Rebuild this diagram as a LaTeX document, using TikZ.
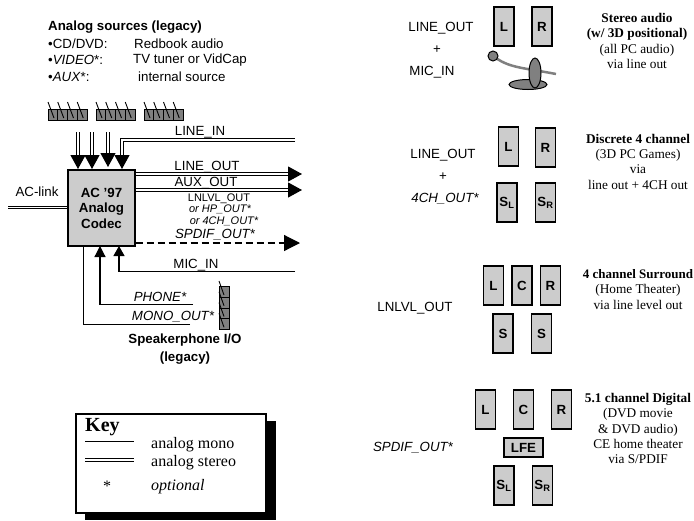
\documentclass[tikz,border=0pt]{standalone}
\usepackage{fontspec}
\setmainfont{Liberation Sans}
\newfontfamily\serifface{Liberation Serif}
\usetikzlibrary{arrows.meta}
\definecolor{boxgray}{HTML}{CCCCCC}
\definecolor{jackgray}{HTML}{808080}
\tikzset{
  lbl/.style={inner sep=0pt,font=\fontsize{13.3}{15}\selectfont},
  lblsmall/.style={inner sep=0pt,font=\fontsize{11}{13}\itshape\selectfont},
  lblbold/.style={inner sep=0pt,align=center,font=\fontsize{13.3}{17.5}\bfseries\selectfont},
  panel/.style={inner sep=0pt,align=center,font=\fontsize{13.3}{15.3}\serifface\selectfont},
  keytext/.style={inner sep=0pt,anchor=west,font=\fontsize{16}{18}\serifface\selectfont},
  spk/.style={draw,line width=1.2pt,fill=boxgray,inner sep=0pt,minimum width=20pt,minimum height=39pt,font=\fontsize{13.3}{15}\bfseries\selectfont},
  mono/.style={line width=1.2pt},
  stereo/.style={double,double distance=1.5pt,line width=1.1pt},
  bighead/.style={-{Triangle[length=14pt,width=15pt]}},
  smallhead/.style={-{Triangle[length=10pt,width=11pt]}},
  jack/.style={draw,line width=0.9pt,fill=jackgray}
}
\begin{document}
\begin{tikzpicture}[x=1pt,y=-1pt]
  \useasboundingbox (0,0) rectangle (694,520);
  % sources
  \node[lbl,font=\fontsize{13.3}{15}\bfseries\selectfont,anchor=west] (srctitle) at (48,27) {Analog sources (legacy)};
  \node[lbl,anchor=west] (srcA) at (48,44) {•CD/DVD:};
  \node[lbl,anchor=west] (srcAb) at (134,44) {Redbook audio};
  \node[lbl,anchor=west] (srcB) at (48,60) {•\textit{VIDEO}*:};
  \node[lbl,anchor=west] (srcBb) at (133,60) {TV tuner or VidCap};
  \node[lbl,anchor=west] (srcC) at (48,77) {•\textit{AUX}*:};
  \node[lbl,anchor=west] (srcCb) at (138,77) {internal source};
  % jacks
  \foreach \x in {48,96,144}
    \foreach \i in {0,...,3} {
      \draw[jack] ({\x+\i*9.75},109) rectangle ++(9.75,11);
      \draw[line width=0.9pt] ({\x+\i*9.75},102) -- ++(6,16);
    }
  \foreach \i in {0,...,3} {
    \draw[jack] (219,{286.5+\i*10.75}) rectangle ++(10.5,10.75);
    \draw[line width=0.9pt] (219,{281+\i*10.75}) -- ++(5,14);
  }
  % codec
  \node[draw,line width=1.2pt,fill=boxgray,minimum width=67pt,minimum height=76pt,inner sep=0pt,align=center,font=\fontsize{13.3}{15.5}\bfseries\selectfont] (codec) at (101.5,208) {AC ’97\\Analog\\Codec};
  \node[lbl] (aclink) at (37,192) {AC-link};
  \coordinate (aclinkend) at (8,207.5);
  \coordinate (aclinkin) at (codec.west |- aclinkend);
  \draw[stereo] (aclinkend) -- (aclinkin);
  % inputs from the jacks
  \foreach \x/\y/\n in {78/169/a,92/169/b,108/167/c} {
    \coordinate (src\n) at (\x,132);
    \coordinate (in\n) at (\x,\y);
    \draw[stereo,bighead] (src\n) -- (in\n);
  }
  \coordinate (lineinend) at (295,140);
  \coordinate (lineinin) at (122,169);
  \draw[stereo,bighead] (lineinend) -| (lineinin);
  \node[lbl] (linein) at (200,132) {LINE\_IN};
  % outputs
  \foreach \y/\n in {174/lineout,190/auxout} {
    \coordinate (\n from) at (codec.east |- 0,\y);
    \coordinate (\n to) at (302,\y);
    \draw[stereo,bighead] (\n from) -- (\n to);
  }
  \node[lbl] (lineout) at (207,167) {LINE\_OUT};
  \node[lbl] (auxout) at (206,183) {AUX\_OUT};
  \node[lbl,font=\fontsize{11}{13}\selectfont] (lnlvl) at (219,199) {LNLVL\_OUT};
  \node[lblsmall] (hpout) at (220,209) {or HP\_OUT*};
  \node[lblsmall] (fourch) at (224,221) {or 4CH\_OUT*};
  \node[lbl,font=\fontsize{13.3}{15}\itshape\selectfont] (spdif) at (215,235) {SPDIF\_OUT*};
  \coordinate (spdiffrom) at (codec.east |- 0,243);
  \coordinate (spdifto) at (300,243);
  \draw[mono,dashed,dash pattern=on 7pt off 4pt,-{Triangle[length=16pt,width=16pt]}] (spdiffrom) -- (spdifto);
  % mic, phone, mono
  \coordinate (micend) at (295,271.5);
  \coordinate (micin) at (119,246);
  \draw[mono,smallhead] (micend) -| (micin);
  \node[lbl] (micin1) at (196,265) {MIC\_IN};
  \coordinate (phoneend) at (193,304.5);
  \coordinate (phonein) at (100,246);
  \draw[mono,-{Triangle[length=11pt,width=11pt]}] (phoneend) -| (phonein);
  \node[lbl,font=\fontsize{13.3}{15}\itshape\selectfont] (phone) at (160,297) {PHONE*};
  \coordinate (monoend) at (190,324.5);
  \coordinate (monoout) at (83.5,246);
  \draw[mono] (monoend) -| (monoout);
  \node[lbl,font=\fontsize{13.3}{15}\itshape\selectfont] (monolbl) at (173,317) {MONO\_OUT*};
  \node[lblbold] (spkphone) at (185,349) {Speakerphone I/O\\(legacy)};
  % key
  \fill (85,421) rectangle (275.5,520);
  \node[draw,line width=1.2pt,fill=white,minimum width=190pt,minimum height=99pt,inner sep=0pt] (keybox) at (171,463.5) {};
  \node[inner sep=0pt,anchor=west,font=\fontsize{20}{22}\bfseries\serifface\selectfont] (keytitle) at (85,427) {Key};
  \coordinate (monoA) at (85,441.5);
  \coordinate (monoB) at (134,441.5);
  \draw[mono] (monoA) -- (monoB);
  \coordinate (stereoA) at (85,460);
  \coordinate (stereoB) at (134,460);
  \draw[stereo] (stereoA) -- (stereoB);
  \node[keytext,anchor=center] (keystar) at (107,486) {*};
  \node[keytext] (keymono) at (151,445) {analog mono};
  \node[keytext] (keystereo) at (151,463) {analog stereo};
  \node[keytext] (keyopt) at (151,487) {\itshape optional};
  % stereo panel
  \node[lbl] (p1a) at (441,28) {LINE\_OUT};
  \node[lbl] (p1b) at (437,50) {+};
  \node[lbl] (p1c) at (432,72) {MIC\_IN};
  \node[spk] (p1L) at (504,26.5) {L};
  \node[spk] (p1R) at (542,26.5) {R};
  \draw[jackgray,line width=2.5pt] (496,58) .. controls (510,68) and (525,68) .. (556,74);
  \draw[line width=1pt,fill=jackgray] (528,84.5) ellipse (19 and 5);
  \draw[line width=1pt,fill=jackgray] (535,73) ellipse (6 and 15);
  \draw[line width=1pt,fill=jackgray] (493,56) circle (5);
  \node[panel] (p1txt) at (637,41) {\textbf{Stereo audio}\\\textbf{(w/ 3D positional)}\\(all PC audio)\\via line out};
  % discrete 4 channel panel
  \node[lbl] (p2a) at (443,155) {LINE\_OUT};
  \node[lbl] (p2b) at (443,177) {+};
  \node[lbl,font=\fontsize{13.3}{15}\itshape\selectfont] (p2c) at (445,199) {4CH\_OUT*};
  \node[spk] (p2L) at (508.5,146.5) {L};
  \node[spk] (p2R) at (545.5,147.5) {R};
  \node[spk] (p2SL) at (507,202.5) {S\textsubscript{L}};
  \node[spk] (p2SR) at (545.5,202.5) {S\textsubscript{R}};
  \node[panel] (p2txt) at (638,161.5) {\textbf{Discrete 4 channel}\\(3D PC Games)\\via\\line out + 4CH out};
  % surround panel
  \node[lbl] (p3a) at (415,308) {LNLVL\_OUT};
  \node[spk] (p3L) at (493.5,285.5) {L};
  \node[spk] (p3C) at (522,285.5) {C};
  \node[spk] (p3R) at (550.5,285.5) {R};
  \node[spk] (p3S) at (503,333.5) {S};
  \node[spk] (p3Sb) at (541.5,333.5) {S};
  \node[panel] (p3txt) at (638,289.5) {{\fontsize{13}{15.3}\selectfont\textbf{4 channel Surround}}\\(Home Theater)\\via line level out};
  % digital panel
  \node[lbl,font=\fontsize{13.3}{15}\itshape\selectfont] (p4a) at (413,448) {SPDIF\_OUT*};
  \node[spk] (p4L) at (485.5,409.5) {L};
  \node[spk] (p4C) at (523.5,409.5) {C};
  \node[spk] (p4R) at (561.5,409.5) {R};
  \node[spk,minimum width=39pt,minimum height=19pt] (p4LFE) at (523.5,447.5) {LFE};
  \node[spk] (p4SL) at (504,485.5) {S\textsubscript{L}};
  \node[spk] (p4SR) at (542.5,485.5) {S\textsubscript{R}};
  \node[panel] (p4txt) at (638,428.5) {\textbf{5.1 channel Digital}\\(DVD movie\\\& DVD audio)\\CE home theater\\via S/PDIF};
\end{tikzpicture}
\end{document}
